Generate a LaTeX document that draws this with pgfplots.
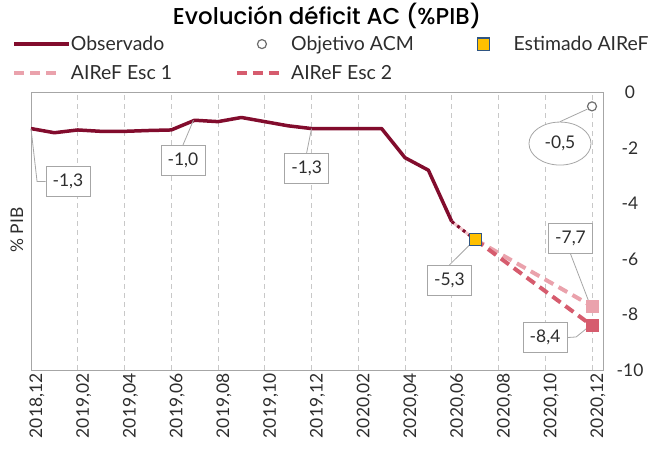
\documentclass[border=0pt]{standalone}
\usepackage{fontspec}
\setmainfont{Lato}
\newfontfamily\titlefont{Poppins Medium}
\usepackage{pgfplots}
\pgfplotsset{compat=1.18}
\usetikzlibrary{shapes.geometric}
\definecolor{obs}{RGB}{130,12,45}
\definecolor{escA}{RGB}{234,162,172}
\definecolor{escB}{RGB}{214,92,110}
\definecolor{yel}{RGB}{255,192,0}
\definecolor{yelb}{RGB}{47,85,130}
\definecolor{gridc}{RGB}{200,200,200}
\definecolor{frame}{RGB}{166,166,166}
\definecolor{txt}{RGB}{45,45,45}
\definecolor{circ}{RGB}{110,110,110}
\begin{document}
\begin{tikzpicture}
\useasboundingbox (-31bp,-83bp) rectangle (619bp,370bp);
\begin{axis}[
  at={(0,0)}, anchor=south west, scale only axis,
  width=572bp, height=277.5bp,
  xmin=0, xmax=24.47, ymin=-10, ymax=0,
  clip=false,
  xtick={0,2,...,24},
  xticklabels={{2018,12},{2019,02},{2019,04},{2019,06},{2019,08},{2019,10},{2019,12},{2020,02},{2020,04},{2020,06},{2020,08},{2020,10},{2020,12}},
  ytick={-10,-8,-6,-4,-2,0},
  yticklabels={-10,-8,-6,-4,-2,0},
  yticklabel pos=right,
  ticklabel style={font=\fontsize{17.5}{20}\selectfont, text=txt},
  xticklabel style={rotate=90, anchor=east, yshift=-6bp},
  yticklabel style={anchor=center, xshift=27bp},
  major tick length=0pt,
  axis line style={draw=frame, line width=0.8bp},
  xmajorgrids,
  grid style={draw=gridc, line width=0.7bp, dash pattern=on 5bp off 4bp},
  legend columns=3,
  legend cell align=left,
  legend style={draw=none, fill=none, at={(axis description cs:-0.0332,1.2036)}, anchor=north west,
    inner sep=0pt, font=\fontsize{19.5}{22}\selectfont, text=txt, column sep=0pt, row sep=13bp,
    nodes={inner sep=0pt}},
]
\addlegendimage{legend image code/.code={\draw[obs, line width=3.5bp] (0bp,0bp) -- (55bp,0bp); \path (56bp,0bp);}}
\addlegendentry{\makebox[164bp][l]{Observado}}
\addlegendimage{legend image code/.code={\draw[circ, fill=white, line width=1.2bp] (25bp,0bp) circle (4.5bp); \path (0bp,0bp) (54bp,0bp);}}
\addlegendentry{\makebox[166bp][l]{Objetivo ACM}}
\addlegendimage{legend image code/.code={\draw[yelb, fill=yel, line width=1.2bp] (20bp,-6bp) rectangle (32bp,6bp); \path (0bp,0bp) (56bp,0bp);}}
\addlegendentry{Estimado AIReF}
\addlegendimage{legend image code/.code={\draw[escA, line width=4bp, dash pattern=on 10bp off 6bp] (0bp,0bp) -- (47bp,0bp); \path (56bp,0bp);}}
\addlegendentry{\makebox[164bp][l]{AIReF Esc 1}}
\addlegendimage{legend image code/.code={\draw[escB, line width=4bp, dash pattern=on 10bp off 6bp] (0bp,0bp) -- (46bp,0bp); \path (54bp,0bp);}}
\addlegendentry{\makebox[166bp][l]{AIReF Esc 2}}

\addplot[forget plot, obs, line width=3.5bp, line join=round] coordinates {
(0,-1.3)(1,-1.45)(2,-1.35)(3,-1.4)(4,-1.4)(5,-1.37)(6,-1.35)(7,-1.0)(8,-1.05)(9,-0.9)(10,-1.05)(11,-1.2)(12,-1.3)(13,-1.3)(14,-1.3)(15,-1.3)(16,-2.35)(17,-2.8)(18,-4.65)};
\addplot[forget plot, escA!60, line width=3bp] coordinates {(18,-4.65)(19,-5.3)};
\addplot[forget plot, obs, line width=3bp, dash pattern=on 3bp off 4bp] coordinates {(18,-4.65)(19,-5.3)};
\addplot[forget plot, escA, line width=4bp, dash pattern=on 10bp off 6bp] coordinates {(19,-5.3)(24,-7.7)};
\addplot[forget plot, escB, line width=4bp, dash pattern=on 10bp off 6bp] coordinates {(19,-5.3)(24,-8.4)};
\addplot[forget plot, only marks, mark=square*, mark size=6bp, color=escA] coordinates {(24,-7.7)};
\addplot[forget plot, only marks, mark=square*, mark size=6bp, color=escB] coordinates {(24,-8.4)};
\addplot[forget plot, only marks, mark=square*, mark size=6bp, draw=yelb, fill=yel, line width=1.2bp] coordinates {(19,-5.3)};
\addplot[forget plot, only marks, mark=*, mark size=4.5bp, draw=circ, fill=white, line width=1.2bp] coordinates {(24,-0.5)};

\tikzset{callout/.style={draw=frame, fill=white, line width=0.8bp, text=txt, font=\fontsize{17.5}{20}\selectfont, minimum width=44bp, minimum height=30bp, inner sep=2bp},
  lead/.style={draw=frame, line width=0.8bp}}
\node[callout] (c1) at (axis cs:1.58,-3.21) {-1,3};
\draw[lead] (axis cs:0,-1.3) -- (axis cs:0.26,-3.21) -- (c1.west);
\node[callout] (c2) at (axis cs:6.50,-2.45) {-1,0};
\draw[lead] (axis cs:6.95,-1.0) -- (c2.north);
\node[callout] (c3) at (axis cs:11.79,-2.74) {-1,3};
\draw[lead] (axis cs:12,-1.3) -- (c3.north);
\node[draw=frame, fill=white, ellipse, line width=0.8bp, text=txt, font=\fontsize{17.5}{20}\selectfont, minimum width=62bp, minimum height=43bp, inner sep=0pt] (c4) at (axis cs:22.63,-1.84) {-0,5};
\draw[lead] (axis cs:23.8,-0.6) -- (c4.north);
\node[callout] (c5) at (axis cs:17.90,-6.77) {-5,3};
\draw[lead] (axis cs:18.85,-5.42) -- (c5.north);
\node[callout] (c6) at (axis cs:23.08,-5.26) {-7,7};
\draw[lead] (c6.south) -- (axis cs:23.87,-7.55);
\node[callout] (c7) at (axis cs:21.99,-8.83) {-8,4};
\draw[lead] (c7.east) -- (axis cs:23.32,-8.81) -- (axis cs:23.79,-8.49);
\end{axis}
\node[anchor=base, font=\titlefont\fontsize{23}{26}\selectfont, text=black] at (296bp,345bp) {Evolución déficit AC (\%PIB)};
\node[rotate=90, font=\fontsize{17.5}{20}\selectfont, text=txt] at (-14bp,140bp) {\% PIB};
\end{tikzpicture}
\end{document}
